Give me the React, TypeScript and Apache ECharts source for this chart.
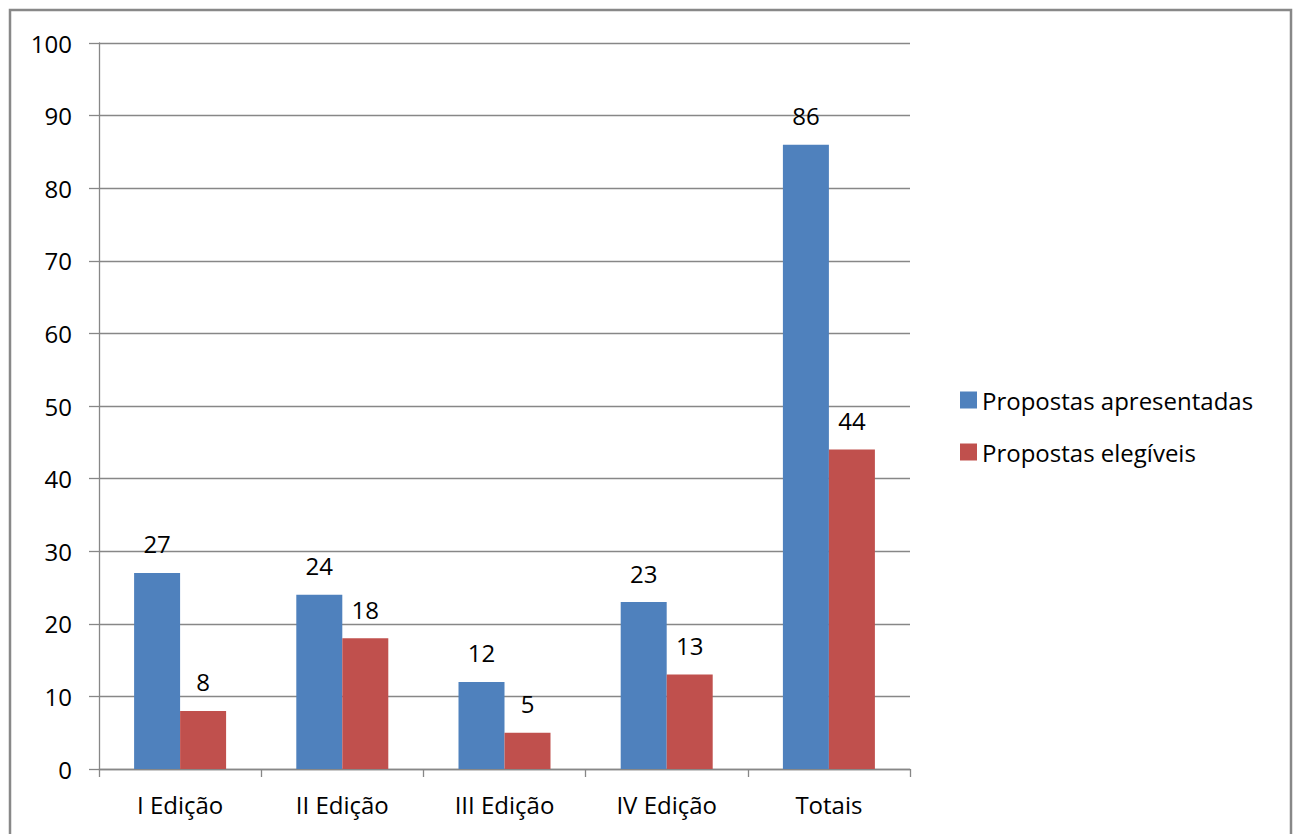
import React, { useEffect, useRef } from "react";
import * as echarts from "echarts";

const categories = ["I Edição", "II Edição", "III Edição", "IV Edição", "Totais"];
const apresentadas = [27, 24, 12, 23, 86];
const elegiveis = [8, 18, 5, 13, 44];
const seriesNames = ["Propostas apresentadas", "Propostas elegíveis"];

const FONT = "'Open Sans', Lato, sans-serif";
const FS = 24;

export default function App() {
  const ref = useRef<HTMLDivElement>(null);
  useEffect(() => {
    document.body.style.margin = "0";
    const chart = echarts.init(ref.current!, null, { renderer: "svg" });
    const labelStyle = {
      show: true,
      position: "top" as const,
      distance: 17,
      color: "#000",
      fontSize: FS,
      fontFamily: FONT,
    };
    chart.setOption({
      animation: false,
      backgroundColor: "#fff",
      textStyle: { fontFamily: FONT },
      grid: { left: 99, right: 385, top: 43, bottom: 65, containLabel: false },
      graphic: [
        {
          type: "rect",
          shape: { x: 10, y: 10, width: 1281, height: 850 },
          style: { fill: "none", stroke: "#888888", lineWidth: 2.5 },
          silent: true,
        },
      ],
      legend: {
        orient: "vertical",
        left: 955,
        top: 383,
        itemWidth: 17,
        itemHeight: 17,
        itemGap: 28,
        itemTextGap: 4,
        icon: "rect",
        textStyle: { fontSize: FS, color: "#000", fontFamily: FONT, padding: [0, 0, 0, 0] },
        data: seriesNames,
      },
      xAxis: {
        type: "category",
        data: categories,
        boundaryGap: true,
        axisLine: { show: true, lineStyle: { color: "#878787", width: 1.3 } },
        axisTick: { show: true, length: 8, alignWithLabel: false, lineStyle: { color: "#878787", width: 1.3 } },
        axisLabel: { color: "#000", fontSize: FS, fontFamily: FONT, margin: 23 },
      },
      yAxis: {
        type: "value",
        min: 0,
        max: 100,
        interval: 10,
        axisLine: { show: true, lineStyle: { color: "#878787", width: 1.3 } },
        axisTick: { show: true, length: 10, lineStyle: { color: "#878787", width: 1.3 } },
        axisLabel: { color: "#000", fontSize: FS, fontFamily: FONT, margin: 27 },
        splitLine: { show: true, lineStyle: { color: "#878787", width: 1.3 } },
      },
      series: [
        {
          name: seriesNames[0],
          type: "bar",
          data: apresentadas,
          barWidth: 46,
          barGap: "0%",
          itemStyle: { color: "#4F81BD" },
          label: labelStyle,
        },
        {
          name: seriesNames[1],
          type: "bar",
          data: elegiveis,
          barWidth: 46,
          barGap: "0%",
          itemStyle: { color: "#C0504D" },
          label: labelStyle,
        },
      ],
    });
    return () => chart.dispose();
  }, []);
  return <div ref={ref} style={{ width: 1295, height: 834 }} />;
}
